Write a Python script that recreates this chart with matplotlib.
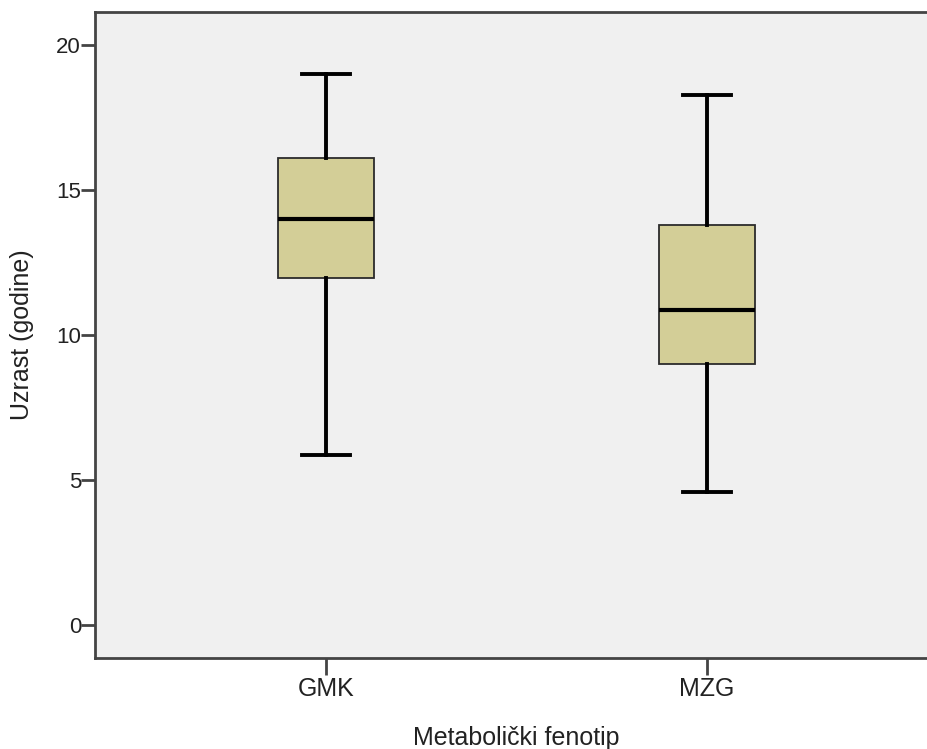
import matplotlib
matplotlib.use("Agg")
import matplotlib.pyplot as plt

plt.rcParams['font.family'] = ['Liberation Sans', 'DejaVu Sans']

# values
groups = ["GMK", "MZG"]
whisker_lo = [5.86, 4.59]
q1 = [11.97, 9.0]
medians = [14.0, 10.86]
q3 = [16.1, 13.79]
whisker_hi = [19.0, 18.28]

yticks = [0, 5, 10, 15, 20]

stats = []
for i, g in enumerate(groups):
    stats.append(dict(label=g, whislo=whisker_lo[i], q1=q1[i], med=medians[i],
                      q3=q3[i], whishi=whisker_hi[i], fliers=[]))

fig = plt.figure(figsize=(9.27, 7.49), dpi=100)
ax = fig.add_axes([95/927, 91/749, 843/927, 646/749])
ax.set_facecolor("#f0f0f0")

ax.bxp(stats, positions=[1, 2], widths=0.25, capwidths=0.126, patch_artist=True,
       showfliers=False,
       boxprops=dict(facecolor="#d3ce97", edgecolor="#2b2b2b", linewidth=1.3),
       medianprops=dict(color="black", linewidth=3),
       whiskerprops=dict(color="black", linewidth=2.8),
       capprops=dict(color="black", linewidth=2.8))

ax.set_xlim(0.394, 2.606)
ax.set_ylim(-1.14, 21.14)
ax.set_yticks(yticks)
ax.set_xticks([1, 2])
ax.set_xticklabels(groups)

for s in ["left", "bottom", "top"]:
    ax.spines[s].set_color("#444444")
    ax.spines[s].set_linewidth(2)
ax.spines["right"].set_visible(False)

ax.tick_params(axis="y", direction="out", length=10, width=2, color="#444444",
               labelsize=16, labelcolor="#222222", pad=0)
ax.tick_params(axis="x", direction="out", length=12, width=2, color="#444444",
               labelsize=18, labelcolor="#222222", pad=2)

ax.set_ylabel("Uzrast (godine)", fontsize=18, color="#222222")
ax.set_xlabel("Metabolički fenotip", fontsize=18, color="#222222")
ax.yaxis.set_label_coords(-0.072, 0.5)
ax.xaxis.set_label_coords(0.5, -0.106)

fig.savefig("out.png", dpi=100)
